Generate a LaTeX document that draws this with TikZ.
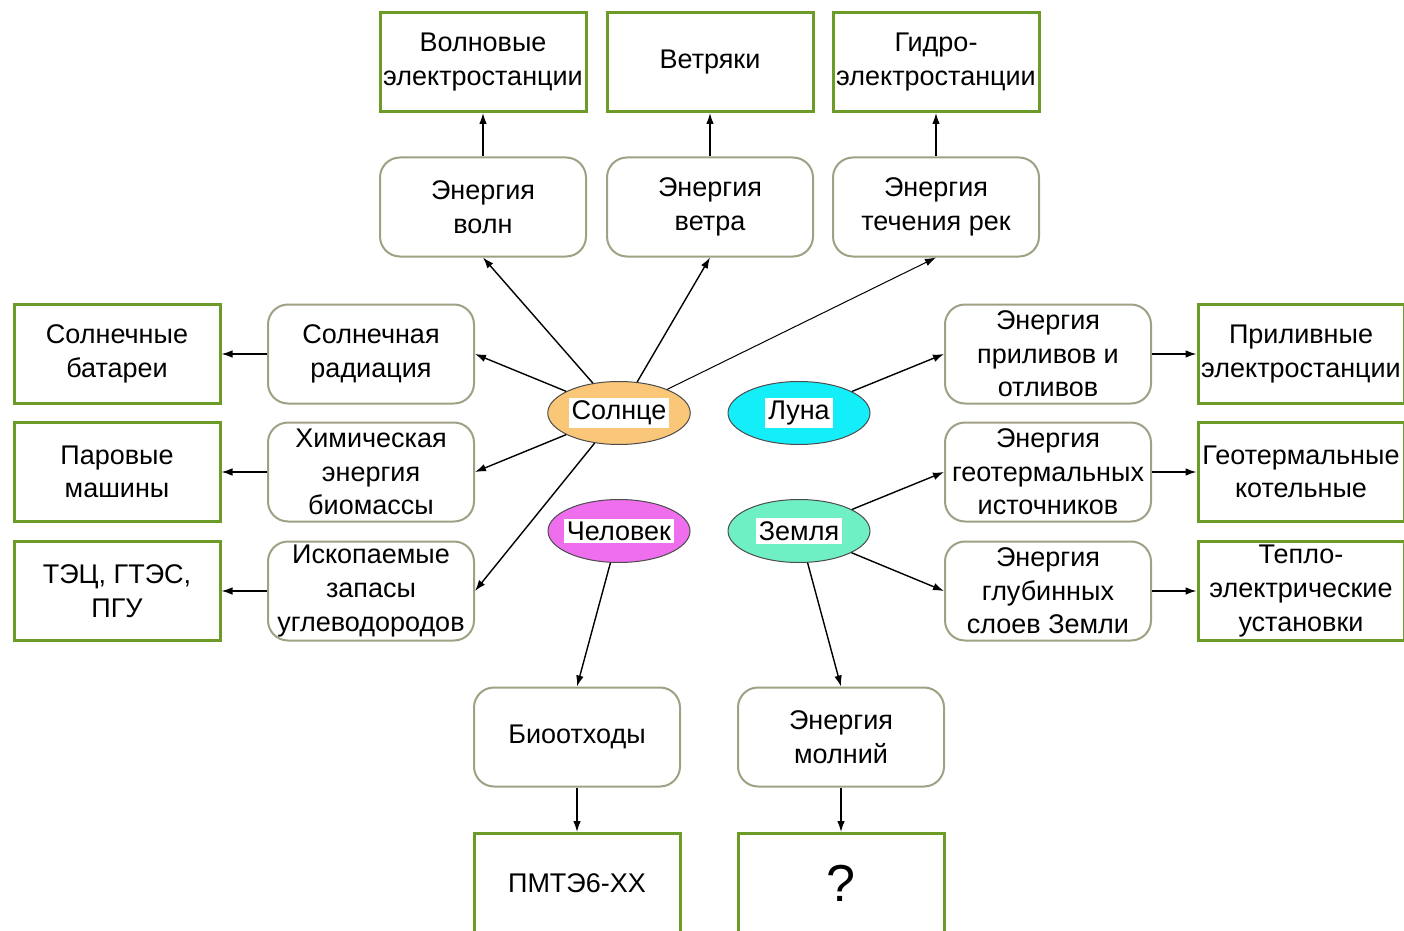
\documentclass[tikz,border=0pt]{standalone}
\usepackage{fontspec}
\setmainfont{Liberation Sans}
\usepackage{xcolor}
\usetikzlibrary{shapes.geometric,arrows.meta,positioning}
\definecolor{stationgreen}{RGB}{108, 155, 40}
\definecolor{sourcegray}{RGB}{160, 160, 132}
\definecolor{sunorange}{RGB}{250, 198, 120}
\definecolor{mooncyan}{RGB}{20, 238, 248}
\definecolor{humanpink}{RGB}{238, 110, 238}
\definecolor{earthmint}{RGB}{110, 240, 196}

\begin{document}
\begin{tikzpicture}[x=0.5pt, y=-0.5pt, >={Latex[length=5.5pt,width=3.8pt]},
    font=\fontsize{13.5pt}{16.8pt}\selectfont,
    station/.style={draw=stationgreen, line width=1.5pt, fill=white, align=center,
        minimum width=103pt, minimum height=49.5pt, inner sep=0pt},
    source/.style={draw=sourcegray, line width=1pt, rounded corners=10pt, fill=white, align=center,
        minimum width=103pt, minimum height=49.5pt, inner sep=0pt},
    body/.style={ellipse, draw=black!70, line width=0.5pt, minimum width=71pt, minimum height=31.5pt, inner sep=0pt},
    link/.style={->, line width=0.7pt}]
        \useasboundingbox (0,0) rectangle (1404,931);
        \clip (0,0) rectangle (1404,931);

        % Top row: stations
        \node[station] (wavest) at (483, 62) {Волновые\\электростанции};
        \node[station] (windst) at (710, 62) {Ветряки};
        \node[station] (hydrost) at (936, 62) {Гидро-\\электростанции};

        % Top row: sources
        \node[source] (wave) at (483, 207) {Энергия\\волн};
        \node[source] (wind) at (710, 207) {Энергия\\ветра};
        \node[source] (river) at (936, 207) {Энергия\\течения рек};

        % Left column
        \node[source] (solarrad) at (371, 354) {Солнечная\\радиация};
        \node[source] (biomass) at (371, 472) {Химическая\\энергия\\биомассы};
        \node[source] (fossil) at (371, 591) {Ископаемые\\запасы\\углеводородов};
        \node[station] (solarbat) at (117, 354) {Солнечные\\батареи};
        \node[station] (steam) at (117, 472) {Паровые\\машины};
        \node[station] (tpp) at (117, 591) {ТЭЦ, ГТЭС,\\ПГУ};

        % Right column
        \node[source] (tide) at (1048, 354) {Энергия\\приливов и\\отливов};
        \node[source] (geo) at (1048, 472) {Энергия\\геотермальных\\источников};
        \node[source] (deep) at (1048, 591) {Энергия\\глубинных\\слоев Земли};
        \node[station] (tidest) at (1301, 354) {Приливные\\электростанции};
        \node[station] (geost) at (1301, 472) {Геотермальные\\котельные};
        \node[station] (thermst) at (1301, 591) {Тепло-\\электрические\\установки};

        % Bottom row
        \node[source] (bio) at (577, 737) {Биоотходы};
        \node[source] (light) at (841, 737) {Энергия\\молний};
        \node[station] (pmte) at (577, 883) {ПМТЭ6-ХХ};
        \node[station] (unknown) at (841, 883) {\fontsize{26pt}{30pt}\selectfont ?};

        % Bodies
        \fboxsep=1.5pt
        \node[body, fill=sunorange] (sun) at (619, 413) {\colorbox{white}{Солнце}};
        \node[body, fill=mooncyan] (moon) at (799, 413) {\colorbox{white}{Луна}};
        \node[body, fill=humanpink, inner xsep=-9pt] (human) at (619, 531) {\colorbox{white}{Человек}};
        \node[body, fill=earthmint] (earth) at (799, 531) {\colorbox{white}{Земля}};

        % Sun links
        \draw[link] (sun) -- (wave.south);
        \draw[link] (sun) -- (wind.south);
        \draw[link, line width=0.5pt] (sun) -- (river.south);
        \draw[link] (sun) -- (solarrad.east);
        \draw[link] (sun) -- (biomass.east);
        \draw[link] (sun) -- (fossil.east);

        % Moon, Earth and Man links
        \draw[link] (moon) -- (tide.west);
        \draw[link] (earth) -- (geo.west);
        \draw[link] (earth) -- (deep.west);
        \draw[link] (earth) -- (light.north);
        \draw[link] (human) -- (bio.north);

        % Source to station
        \draw[link] (wave) -- (wavest);
        \draw[link] (wind) -- (windst);
        \draw[link] (river) -- (hydrost);
        \draw[link] (solarrad) -- (solarbat);
        \draw[link] (biomass) -- (steam);
        \draw[link] (fossil) -- (tpp);
        \draw[link] (tide) -- (tidest);
        \draw[link] (geo) -- (geost);
        \draw[link] (deep) -- (thermst);
        \draw[link] (bio) -- (pmte);
        \draw[link] (light) -- (unknown);
    \end{tikzpicture}
\end{document}
